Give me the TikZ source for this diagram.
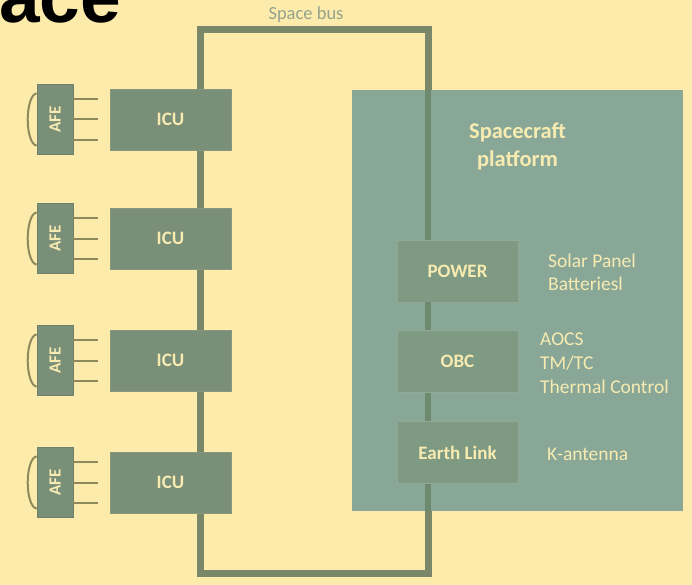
\documentclass[tikz,border=0pt]{standalone}
\usepackage{fontspec}
\setmainfont{Carlito}
\newfontfamily\titlefont{Liberation Sans}
\definecolor{bgc}{HTML}{FCEBAA}
\definecolor{busc}{HTML}{7A8768}
\definecolor{icuc}{HTML}{7A8F78}
\definecolor{platc}{HTML}{88A796}
\definecolor{innerc}{HTML}{7E9A82}
\definecolor{innerline}{HTML}{6E8A6E}
\definecolor{txtc}{HTML}{F7EBB2}
\definecolor{buslabelc}{HTML}{95A38C}
\definecolor{leadc}{HTML}{8E8A5E}
\begin{document}
\begin{tikzpicture}[x=1pt,y=-1pt,
  bus/.style={draw=busc,line width=7pt,line join=miter},
  innerbus/.style={draw=innerline,line width=6pt},
  icubox/.style={fill=icuc,draw=icuc!90!bgc,line width=0.8pt,minimum width=121pt,minimum height=61pt,inner sep=0pt,
     text=txtc,font=\bfseries\fontsize{19}{22}\selectfont},
  afebox/.style={fill=icuc,draw=icuc!90!black,line width=0.6pt,minimum width=36pt,minimum height=70pt,inner sep=0pt,
     text=txtc,font=\bfseries\fontsize{17}{20}\selectfont},
  innerbox/.style={fill=innerc,draw=innerc!85!white,line width=0.6pt,minimum width=121pt,minimum height=62pt,inner sep=0pt,
     text=txtc,font=\bfseries\fontsize{19}{22}\selectfont},
  lead/.style={draw=leadc,line width=2pt},
  sidelabel/.style={anchor=base west,inner sep=0pt,text=txtc,font=\fontsize{19.5}{22}\selectfont}
]
\useasboundingbox (0,0) rectangle (692,585);
\fill[bgc] (0,0) rectangle (692,585);

% cut-off title
\node[anchor=base east,inner sep=0pt,font=\titlefont\bfseries\fontsize{73}{73}\selectfont] (title) at (121,23) {ace};

% space bus loop
\coordinate (bTL) at (200,30);
\coordinate (bTR) at (428,30);
\coordinate (bBR) at (428,573);
\coordinate (bBL) at (200,573);
\draw[bus] (bTL) -- (bTR) -- (bBR) -- (bBL) -- cycle;
\node[inner sep=0pt,text=buslabelc,font=\fontsize{18.5}{20}\selectfont] (buslabel) at (306,15) {Space bus};

% spacecraft platform
\node[fill=platc,minimum width=331pt,minimum height=421pt,inner sep=0pt] (platform) at (517.5,300.5) {};
\node[align=center,inner sep=0pt,text=txtc,font=\bfseries\fontsize{22.5}{28}\selectfont] (plattext) at (517.5,146) {Spacecraft\\platform};

\node[innerbox] (power) at (457.5,271) {POWER};
\node[innerbox] (obc) at (457.5,361.5) {OBC};
\node[innerbox] (earth) at (457.5,452.5) {Earth Link};

\coordinate (ptop) at (bTR |- platform.north);
\coordinate (pbot) at (bTR |- platform.south);
\draw[innerbus] (ptop) -- (ptop |- power.north);
\draw[innerbus] (ptop |- power.south) -- (ptop |- obc.north);
\draw[innerbus] (ptop |- obc.south) -- (ptop |- earth.north);
\draw[innerbus] (ptop |- earth.south) -- (pbot);

\node[sidelabel] (l1) at (548,267) {Solar Panel};
\node[sidelabel] (l2) at (548,290) {Batteriesl};
\node[sidelabel] (l3) at (540,345) {AOCS};
\node[sidelabel] (l4) at (540,369) {TM/TC};
\node[sidelabel] (l5) at (540,393) {Thermal Control};
\node[sidelabel] (l6) at (547,460) {K-antenna};

% instrument chains
\foreach \i/\yy in {1/119.5,2/238.5,3/360.5,4/482.5}{
  \node[icubox] (icu\i) at (170.5,\yy) {ICU};
  \node[afebox] (afe\i) at (55,\yy) {\rotatebox{90}{AFE}};
  \draw[lead] (afe\i.east) -- ++(25,0) coordinate (le\i);
  \draw[lead] ([yshift=20.5pt]afe\i.east) -- ++(25,0) coordinate (lt\i);
  \draw[lead] ([yshift=-20.5pt]afe\i.east) -- ++(25,0) coordinate (lb\i);
  \draw[lead] (afe\i.west) ++(0,-26) arc[start angle=-90,end angle=-270,x radius=9,y radius=26];
}
\end{tikzpicture}
\end{document}
